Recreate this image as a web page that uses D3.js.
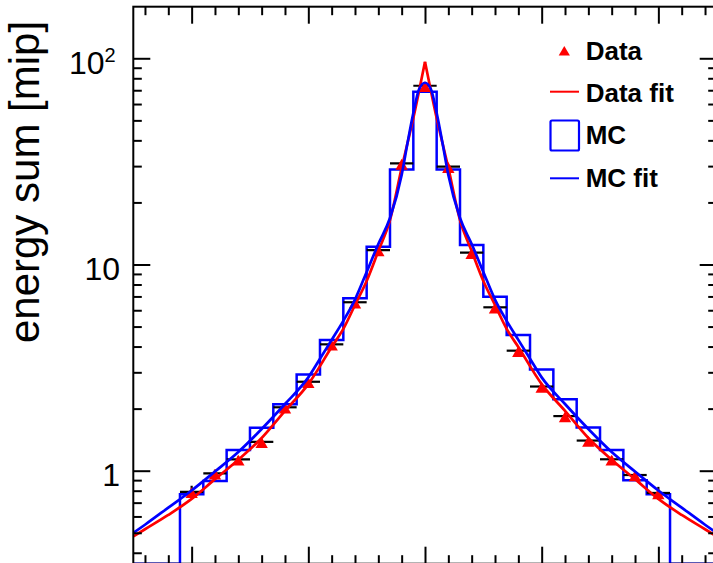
<!DOCTYPE html>
<html>
<head>
<meta charset="utf-8">
<script src="https://cdn.jsdelivr.net/npm/d3@7"></script>
<style>
  html, body { margin: 0; padding: 0; background: #fff; overflow: hidden; }
  text { font-family: "Liberation Sans", Arial, Helvetica, sans-serif; }
</style>
</head>
<body>
<svg id="chart" width="713" height="563"></svg>
<script>
// ---- data -------------------------------------------------------------
// bin offsets from the central bin (bin width = 1)
const binOffsets = [-10, -9, -8, -7, -6, -5, -4, -3, -2, -1, 0, 1, 2, 3, 4, 5, 6, 7, 8, 9, 10];

// simulated energy sum per bin [mip]
const mcValues = [0.768, 0.891, 1.26, 1.616, 2.10, 2.93, 4.30, 6.86, 12.2, 28.9, 68.9,
                  28.9, 12.43, 6.98, 4.55, 3.10, 2.22, 1.62, 1.26, 0.90, 0.768];

// measured energy sum per bin [mip] and its uncertainty
const dataValues = [0.79, 0.971, 1.136, 1.38, 2.03, 2.70, 4.10, 6.56, 11.75, 30.9, 73.6,
                    29.8, 11.41, 6.2, 3.82, 2.56, 1.84, 1.40, 1.136, 0.953, 0.78];
const dataErrors = [0.055, 0.04, 0.035, 0.04, 0.05, 0.06, 0.08, 0.1, 0.15, 0.3, 0.6,
                    0.3, 0.15, 0.1, 0.08, 0.06, 0.05, 0.04, 0.035, 0.04, 0.055];

// fitted curve to the measured data (cusp at the centre)
const dataFitX = [-12.5, -12, -11, -10, -9, -8, -7, -6, -5, -4, -3.5, -3, -2.5, -2, -1.5, -1, -0.5, 0,
                  0.5, 1, 1.5, 2, 2.5, 3, 3.5, 4, 5, 6, 7, 8, 9, 10, 11, 12, 12.5];
const dataFitValues = [0.48, 0.52, 0.61, 0.73, 0.91, 1.13, 1.44, 1.95, 2.63, 3.98, 4.87, 6.36, 8.32, 11.63, 16.4, 29.4, 51.3, 96.3,
                       51.3, 29.4, 16.4, 11.63, 8.32, 6.36, 4.87, 3.98, 2.63, 1.95, 1.44, 1.13, 0.91, 0.73, 0.61, 0.52, 0.48];

// fitted curve to the simulation (rounded core)
const mcFitX = [-12.5, -12, -11, -10, -9, -8, -7, -6, -5, -4.5, -4, -3.5, -3, -2.5, -2, -1.5, -1, -0.75, -0.5, -0.25, 0,
                0.25, 0.5, 0.75, 1, 1.5, 2, 2.5, 3, 3.5, 4, 4.5, 5, 6, 7, 8, 9, 10, 11, 12, 12.5];
const mcFitValues = [0.499, 0.547, 0.662, 0.802, 0.991, 1.232, 1.593, 2.106, 2.835, 3.49, 4.31, 5.33, 6.76, 9.20, 12.57, 16.8, 27.2, 38.8, 54.3, 71.0, 76.1,
                     71.0, 54.3, 38.8, 27.2, 16.8, 12.57, 9.20, 6.76, 5.33, 4.31, 3.49, 2.835, 2.106, 1.593, 1.232, 0.991, 0.802, 0.662, 0.547, 0.499];

// axis ticks
const xTicks = d3.range(-12, 13);
const xMajorTicks = [-10, -5, 0, 5, 10];
const yMajorTicks = [1, 10, 100];
const yMinorTicks = [0.4, 0.5, 0.6, 0.7, 0.8, 0.9, 2, 3, 4, 5, 6, 7, 8, 9, 20, 30, 40, 50, 60, 70, 80, 90];

const legendItems = ["Data", "Data fit", "MC", "MC fit"];
const yTitle = "energy sum [mip]";

// ---- layout -----------------------------------------------------------
const frame = { left: 133.3, right: 716.7, top: 6.7, bottom: 563.7 };
const RED = "#ff0000", BLUE = "#0000ff";

const x = d3.scaleLinear().domain([-12.5, 12.5]).range([frame.left, frame.right]);
const y = d3.scaleLog().domain([0.354, 177.9]).range([frame.bottom, frame.top]);
const yMin = y.domain()[0];

const svg = d3.select("#chart");

svg.append("defs").append("clipPath").attr("id", "plotClip")
  .append("rect")
  .attr("x", frame.left).attr("y", frame.top)
  .attr("width", frame.right - frame.left).attr("height", frame.bottom - frame.top);

const plot = svg.append("g").attr("clip-path", "url(#plotClip)");

// simulation histogram (empty bins outside drawn on the lower edge)
const histPoints = [[-12.5, yMin], [-11, yMin]]
  .concat(binOffsets.map((b, i) => [b, mcValues[i]]))
  .concat([[11, yMin], [12.5, yMin]]);
plot.append("path")
  .attr("d", d3.line().x(d => x(d[0])).y(d => y(d[1])).curve(d3.curveStep)(histPoints))
  .attr("fill", "none").attr("stroke", BLUE).attr("stroke-width", 2.5);

// measured points: error bars
const bars = plot.append("g").attr("stroke", "#000").attr("stroke-width", 2.2);
binOffsets.forEach((b, i) => {
  const v = dataValues[i], e = dataErrors[i];
  bars.append("line")
    .attr("x1", x(b - 0.5)).attr("x2", x(b + 0.5))
    .attr("y1", y(v)).attr("y2", y(v));
  bars.append("line")
    .attr("x1", x(b)).attr("x2", x(b))
    .attr("y1", y(v - e)).attr("y2", y(v + e));
});

// measured points: triangle markers
function triangle(cx, cy, hw, hh) {
  return `M${cx - hw},${cy + hh}L${cx + hw},${cy + hh}L${cx},${cy - hh}Z`;
}
plot.append("g").selectAll("path")
  .data(binOffsets.map((b, i) => [b, dataValues[i]]))
  .join("path")
  .attr("d", d => triangle(x(d[0]), y(d[1]) + 0.8, 6.2, 5.4))
  .attr("fill", RED);

// fit curves (each drawn as left and right branch)
function drawFit(xs, vs, color, splitAtPeak) {
  const pts = xs.map((u, i) => [u, vs[i]]);
  const line = d3.line().x(d => x(d[0])).y(d => y(d[1])).curve(d3.curveMonotoneX);
  const segs = splitAtPeak ? [pts.slice(0, xs.indexOf(0) + 1), pts.slice(xs.indexOf(0))] : [pts];
  segs.forEach(seg => {
    plot.append("path").attr("d", line(seg))
      .attr("fill", "none").attr("stroke", color).attr("stroke-width", 2.7)
      .attr("stroke-linejoin", "miter");
  });
}
drawFit(dataFitX, dataFitValues, RED, true);
drawFit(mcFitX, mcFitValues, BLUE, false);

// ---- axes and frame ------------------------------------------------------
function styleAxis(g) {
  g.select(".domain").remove();
  g.selectAll("line").attr("stroke", "#000").attr("stroke-width", 2);
}
const major = 17, minor = 8.5;

svg.append("g").attr("transform", `translate(${frame.left},0)`)
  .call(d3.axisLeft(y).tickValues(yMajorTicks).tickSize(-major).tickFormat(""))
  .call(styleAxis);
svg.append("g").attr("transform", `translate(${frame.left},0)`)
  .call(d3.axisLeft(y).tickValues(yMinorTicks).tickSize(-minor).tickFormat(""))
  .call(styleAxis);
svg.append("g").attr("transform", `translate(${frame.right},0)`)
  .call(d3.axisRight(y).tickValues(yMajorTicks).tickSize(-major).tickFormat(""))
  .call(styleAxis);
svg.append("g").attr("transform", `translate(${frame.right},0)`)
  .call(d3.axisRight(y).tickValues(yMinorTicks).tickSize(-minor).tickFormat(""))
  .call(styleAxis);

const xMinor = xTicks.filter(t => !xMajorTicks.includes(t));
svg.append("g").attr("transform", `translate(0,${frame.top})`)
  .call(d3.axisTop(x).tickValues(xMajorTicks).tickSize(-major).tickFormat(""))
  .call(styleAxis);
svg.append("g").attr("transform", `translate(0,${frame.top})`)
  .call(d3.axisTop(x).tickValues(xMinor).tickSize(-minor).tickFormat(""))
  .call(styleAxis);
svg.append("g").attr("transform", `translate(0,${frame.bottom})`)
  .call(d3.axisBottom(x).tickValues(xMajorTicks).tickSize(-major).tickFormat(""))
  .call(styleAxis);
svg.append("g").attr("transform", `translate(0,${frame.bottom})`)
  .call(d3.axisBottom(x).tickValues(xMinor).tickSize(-minor).tickFormat(""))
  .call(styleAxis);

svg.append("rect")
  .attr("x", frame.left).attr("y", frame.top)
  .attr("width", frame.right - frame.left).attr("height", frame.bottom - frame.top)
  .attr("fill", "none").attr("stroke", "#000").attr("stroke-width", 2);

// y tick labels
yMajorTicks.forEach(t => {
  const ty = y(t) + 15.4;
  if (t === 100) {
    const txt = svg.append("text").attr("x", 69).attr("y", ty).attr("font-size", 32);
    txt.append("tspan").text("10");
    txt.append("tspan").attr("font-size", 20).attr("dy", -12).text("2");
  } else {
    svg.append("text").attr("x", 120).attr("y", ty)
      .attr("text-anchor", "end").attr("font-size", 32).text(String(t));
  }
});

// y axis title
svg.append("text")
  .attr("transform", `translate(38.7,${182}) rotate(-90)`)
  .attr("text-anchor", "middle").attr("font-size", 42)
  .text(yTitle);

// ---- legend ----------------------------------------------------------------
const legend = svg.append("g");
const rowBase = [60, 102, 144.3, 186.5];
const textX = 585.7;
legend.append("path").attr("d", triangle(564.3, 50.7, 5.6, 4.8)).attr("fill", RED);
legend.append("line").attr("x1", 550).attr("x2", 579).attr("y1", 91.7).attr("y2", 91.7)
  .attr("stroke", RED).attr("stroke-width", 2);
legend.append("rect").attr("x", 550.5).attr("y", 120.5).attr("width", 28.5).attr("height", 30)
  .attr("rx", 1.5).attr("fill", "none").attr("stroke", BLUE).attr("stroke-width", 2.2);
legend.append("line").attr("x1", 550).attr("x2", 579).attr("y1", 178.3).attr("y2", 178.3)
  .attr("stroke", BLUE).attr("stroke-width", 2);
legendItems.forEach((label, i) => {
  legend.append("text").attr("x", textX).attr("y", rowBase[i])
    .attr("font-size", 26).attr("font-weight", "bold").text(label);
});
</script>
</body>
</html>
